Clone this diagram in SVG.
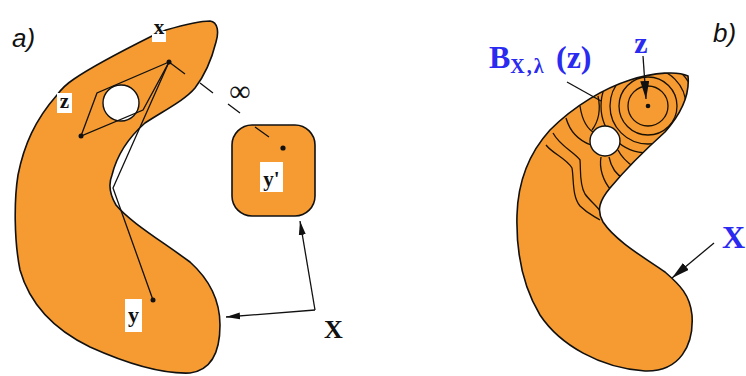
<svg xmlns="http://www.w3.org/2000/svg" width="746" height="376" viewBox="0 0 746 376">
<style>
.shape{fill:#F59B32;stroke:#111;stroke-width:1.6}
.hole{fill:#fff;stroke:#111;stroke-width:1.4}
.ln{fill:none;stroke:#111;stroke-width:1.3}
.cont{fill:none;stroke:#1a1000;stroke-width:1.3}
.lbl{font-family:"Liberation Serif",serif;font-weight:bold;fill:#111}
.blue{font-family:"Liberation Serif",serif;font-weight:bold;fill:#2a2af0}
.it{font-family:"Liberation Sans",sans-serif;font-style:italic;fill:#111;font-size:26px}
.box{fill:#fff}
.dot{fill:#111}
</style>
<defs>
<marker id="ah" viewBox="0 0 14 8" refX="14" refY="4" markerWidth="14" markerHeight="8" markerUnits="userSpaceOnUse" orient="auto">
<path d="M0,0.5 L14,4 L0,7.5 z" fill="#111"/>
</marker>
<marker id="ah2" viewBox="0 0 18 9" refX="18" refY="4.5" markerWidth="18" markerHeight="9" markerUnits="userSpaceOnUse" orient="auto">
<path d="M0,0 L18,4.5 L0,9 z" fill="#111"/>
</marker>
<clipPath id="clipB">
<path d="M688,76 C678,71 655,72 630,80 C605,88 575,105 550,130 C530,152 518,180 517,215 C516,250 522,285 540,315 C560,345 600,368 645,371 C680,372 694,345 692,315 C690,295 680,285 665,272 C640,255 615,240 603,222 C596,210 600,200 610,188 C625,170 645,150 665,132 C680,115 690,95 688,76 Z"/>
</clipPath>
</defs>

<text class="it" x="12" y="47">a)</text>
<text class="it" x="713" y="42">b)</text>

<g id="setA">
<path class="shape" d="M57,95 C62,88 68,83 74,79 C90,68 120,52 152,36 L166,30 C180,26 198,21 210,21 C218,22 219,32 216,42 C212,58 205,75 195,88 C185,100 165,110 145,123 C128,138 117,155 112,175 C108,185 110,195 116,205 C130,222 160,240 190,262 C210,280 220,300 220,325 C220,352 212,370 190,373 C165,374 130,365 90,347 C55,330 30,305 20,270 C14,240 14,200 18,175 C24,145 35,120 57,95 Z"/>
<circle class="hole" cx="121" cy="103" r="18"/>
<path class="ln" d="M81,136 L97,93 L169,62 L143,110 Z"/>
<path class="ln" d="M169,62 L113,188 L153,300"/>
<circle class="dot" cx="169" cy="62" r="2.5"/>
<circle class="dot" cx="81" cy="136" r="2.5"/>
<circle class="dot" cx="153" cy="300" r="2.5"/>
<rect class="box" x="57" y="93" width="15" height="20"/>
<text class="lbl" x="64.5" y="108" font-size="21" text-anchor="middle">z</text>
<rect class="box" x="152" y="31" width="14" height="11"/>
<text class="lbl" x="159" y="34" font-size="21" text-anchor="middle">x</text>
<rect class="box" x="125" y="299" width="17" height="33"/>
<text class="lbl" x="133.5" y="322" font-size="22" text-anchor="middle">y</text>
</g>

<g id="setY">
<rect class="shape" x="232" y="125" width="83" height="91" rx="20" ry="20"/>
<circle class="dot" cx="283" cy="148" r="2.6"/>
<rect class="box" x="260" y="162" width="23" height="30"/>
<text class="lbl" x="271.5" y="186" font-size="21" text-anchor="middle">y'</text>
</g>

<g id="infty">
<path class="ln" d="M169,62 L185,74 M200,83 L213,93 M228,104 L240,113 M255,127 L269,137"/>
<text x="240" y="101" font-family="Liberation Serif,serif" font-size="30" text-anchor="middle" fill="#111">∞</text>
</g>

<g id="labelXa">
<text class="lbl" x="324" y="338" font-size="26">X</text>
</g>

<g id="setB">
<path class="shape" d="M688,76 C678,71 655,72 630,80 C605,88 575,105 550,130 C530,152 518,180 517,215 C516,250 522,285 540,315 C560,345 600,368 645,371 C680,372 694,345 692,315 C690,295 680,285 665,272 C640,255 615,240 603,222 C596,210 600,200 610,188 C625,170 645,150 665,132 C680,115 690,95 688,76 Z"/>
<g clip-path="url(#clipB)">
<circle class="cont" cx="648" cy="106" r="20"/>
<circle class="cont" cx="648" cy="106" r="29"/>
<circle class="cont" cx="648" cy="106" r="38"/>
<circle class="cont" cx="648" cy="106" r="47"/>
<path class="cont" d="M598,96 C601,110 598,122 592,130"/>
<path class="cont" d="M580,106 C582,120 588,130 596,134"/>
<path class="cont" d="M566,118 C570,132 580,141 591,145"/>
<path class="cont" d="M553,133 C560,146 574,152 580,160 C581,170 579,184 585,194 C590,201 596,205 601,212"/>
<path class="cont" d="M546,145 C553,154 566,158 572,168 C574,180 572,196 580,206 C588,214 594,216 600,220"/>
<path class="cont" d="M601,157 C599,168 603,181 611,190"/>
<path class="cont" d="M609,157 C611,167 617,175 624,179"/>
<path class="cont" d="M618,150 C622,158 628,163 634,167"/>
</g>
<circle class="hole" cx="605" cy="141" r="15"/>
<circle class="dot" cx="648" cy="106" r="2.3"/>
</g>

<g id="labelsB">
<text class="blue" x="489" y="68" font-size="32">B<tspan font-size="20" dy="5" letter-spacing="2">X,λ</tspan><tspan font-size="32" dy="-5" x="556">(z)</tspan></text>
<text class="blue" x="641" y="53" font-size="30" text-anchor="middle">z</text>
<text class="blue" x="722" y="248" font-size="32">X</text>
</g>

<g id="connectors">
<path class="ln" d="M315,310 L300,221" marker-end="url(#ah)"/>
<path class="ln" d="M315,310 L226,317" marker-end="url(#ah)"/>
<path class="ln" d="M567,82 L601,101" stroke="#333"/>
<path class="ln" d="M643,56 L646,99" marker-end="url(#ah2)"/>
<path class="ln" d="M714,243 L672,278" stroke="#333" marker-end="url(#ah2)"/>
</g>
</svg>
